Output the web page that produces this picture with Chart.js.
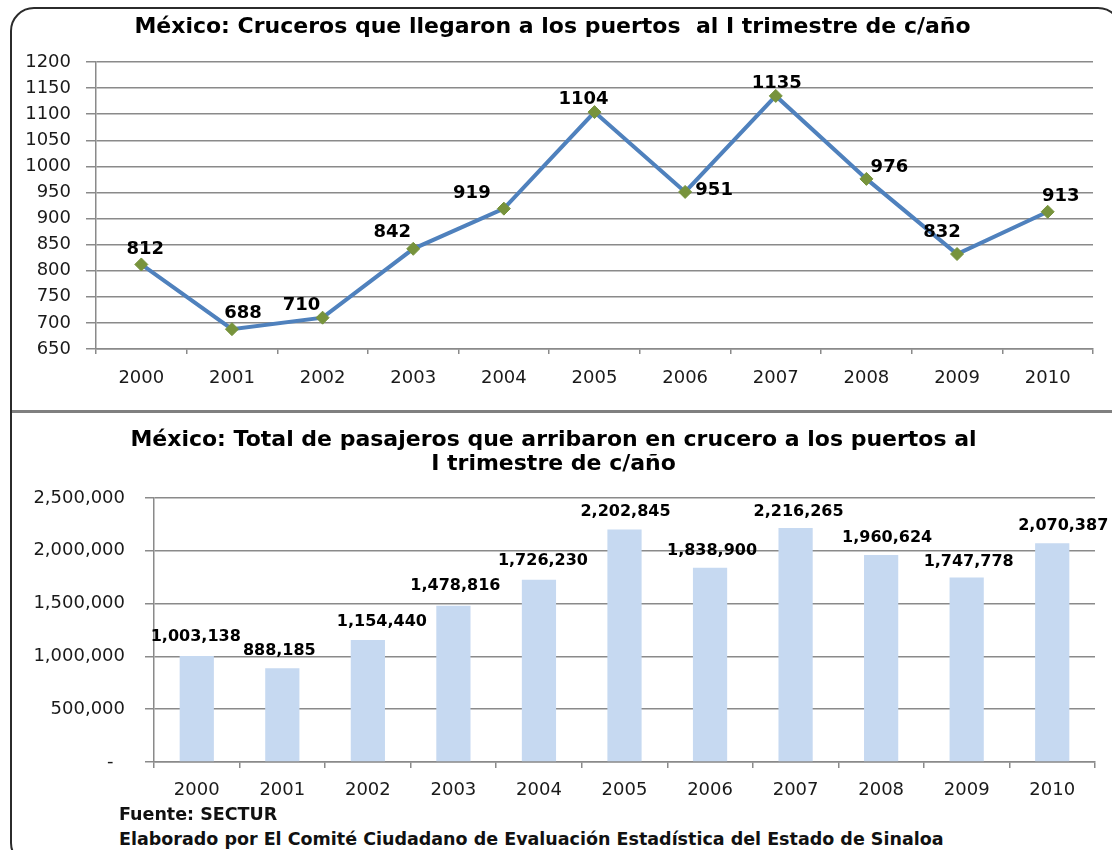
<!DOCTYPE html>
<html><head><meta charset="utf-8">
<script src="https://cdn.jsdelivr.net/npm/chart.js@4.4.1/dist/chart.umd.min.js"></script>
<style>
html,body{margin:0;padding:0;background:#fff;width:1112px;height:850px;overflow:hidden;}
#frame{position:absolute;left:10px;top:7px;width:1112px;height:860px;border:2px solid #2b2b2b;border-radius:24px;box-sizing:border-box;}
#sep{position:absolute;left:12px;top:410px;width:1100px;height:3px;background:#808080;}
#c1{position:absolute;left:12px;top:10px;}
#c2{position:absolute;left:12px;top:415px;}
.foot{position:absolute;left:119px;font:bold 17.5px "DejaVu Sans";color:#111;white-space:nowrap;}
</style></head>
<body>
<div id="frame"></div>
<div id="sep"></div>
<canvas id="c1" width="1096" height="398"></canvas>
<canvas id="c2" width="1096" height="395"></canvas>
<div class="foot" style="top:804px">Fuente: SECTUR</div>
<div class="foot" style="top:829px">Elaborado por El Comité Ciudadano de Evaluación Estadística del Estado de Sinaloa</div>
<script>
const years = ['2000','2001','2002','2003','2004','2005','2006','2007','2008','2009','2010'];
const cruceros = [812, 688, 710, 842, 919, 1104, 951, 1135, 976, 832, 913];
const pasajeros = [1003138, 888185, 1154440, 1478816, 1726230, 2202845, 1838900, 2216265, 1960624, 1747778, 2070387];
const titleTop = 'México: Cruceros que llegaron a los puertos  al I trimestre de c/año';
const titleBottom = ['México: Total de pasajeros que arribaron en crucero a los puertos al', 'I trimestre de c/año'];

const GRID = '#8a8a8a';
const TICKFONT = {family: 'DejaVu Sans', size: 18};
const TICKCOLOR = '#1a1a1a';

const valueLabels = {
  id: 'valueLabels',
  afterDatasetsDraw(chart, args, opts) {
    const ctx = chart.ctx;
    const meta = chart.getDatasetMeta(0);
    const ds = chart.data.datasets[0];
    ctx.save();
    ctx.font = opts.font;
    ctx.fillStyle = opts.color;
    ctx.textAlign = 'center';
    ctx.textBaseline = 'middle';
    meta.data.forEach((el, i) => {
      const n = (opts.nudge && opts.nudge[i]) || [0, 0];
      ctx.fillText(opts.format(ds.data[i]), el.x + n[0], el.y + n[1]);
    });
    ctx.restore();
  }
};

new Chart(document.getElementById('c1'), {
  type: 'line',
  data: {
    labels: years,
    datasets: [{
      data: cruceros,
      borderColor: '#4F81BD',
      borderWidth: 4,
      tension: 0,
      pointStyle: 'rectRot',
      pointRadius: 6.5,
      pointBorderWidth: 1,
      pointBackgroundColor: '#77933C',
      pointBorderColor: '#77933C'
    }]
  },
  options: {
    responsive: false,
    animation: false,
    layout: {padding: {left: 0, right: 15, top: 0, bottom: 9}},
    plugins: {
      legend: {display: false},
      tooltip: {enabled: false},
      title: {display: true, text: titleTop, color: '#000',
        font: {family: 'DejaVu Sans', size: 22, weight: 'bold', lineHeight: 1.2},
        padding: {top: 4, bottom: 21.6}},
      valueLabels: {
        font: 'bold 18px "DejaVu Sans"', color: '#000',
        format: v => String(v),
        nudge: [[4,-15],[11,-16],[-21,-12],[-21,-16],[-32,-15],[-11,-13],[29,-2],[1,-13],[23,-12],[-15,-22],[13,-15]]
      }
    },
    scales: {
      x: {
        offset: true,
        ticks: {color: TICKCOLOR, font: TICKFONT, padding: 14},
        grid: {offset: true, drawOnChartArea: false, color: GRID, lineWidth: 1.5, tickLength: 5},
        border: {color: GRID, width: 1.5},
        afterFit(s) { s.height = 50; }
      },
      y: {
        min: 650, max: 1200,
        ticks: {stepSize: 50, color: TICKCOLOR, font: TICKFONT, padding: 15, callback: v => String(v)},
        grid: {color: GRID, lineWidth: 1.5, tickLength: 10},
        border: {color: GRID, width: 1.5},
        afterFit(s) { s.width = 84; }
      }
    }
  },
  plugins: [valueLabels]
});

new Chart(document.getElementById('c2'), {
  type: 'bar',
  data: {
    labels: years,
    datasets: [{
      data: pasajeros,
      backgroundColor: '#C6D9F1',
      borderWidth: 0,
      categoryPercentage: 1,
      barPercentage: 0.4
    }]
  },
  options: {
    responsive: false,
    animation: false,
    layout: {padding: {left: 0, right: 13, top: 0, bottom: 8}},
    plugins: {
      legend: {display: false},
      tooltip: {enabled: false},
      title: {display: true, text: titleBottom, color: '#000',
        font: {family: 'DejaVu Sans', size: 22, weight: 'bold', lineHeight: 1.1},
        padding: {top: 13, bottom: 21.6}},
      valueLabels: {
        font: 'bold 16px "DejaVu Sans"', color: '#000',
        format: v => v.toLocaleString('en-US'),
        nudge: [[-1,-19],[-3,-17],[14,-18],[2,-20],[4,-19],[1,-18],[2,-17],[3,-16],[6,-17],[2,-16],[11,-18]]
      }
    },
    scales: {
      x: {
        ticks: {color: TICKCOLOR, font: TICKFONT, padding: 12},
        grid: {offset: true, drawOnChartArea: false, color: GRID, lineWidth: 1.5, tickLength: 6},
        border: {color: GRID, width: 1.5},
        afterFit(s) { s.height = 40; }
      },
      y: {
        min: 0, max: 2500000,
        ticks: {stepSize: 500000, color: TICKCOLOR, font: TICKFONT, padding: 20,
          callback: v => v === 0 ? '-  ' : v.toLocaleString('en-US')},
        grid: {color: GRID, lineWidth: 1.5, tickLength: 9},
        border: {color: GRID, width: 1.5},
        afterFit(s) { s.width = 142; }
      }
    }
  },
  plugins: [valueLabels]
});
</script>
</body></html>
